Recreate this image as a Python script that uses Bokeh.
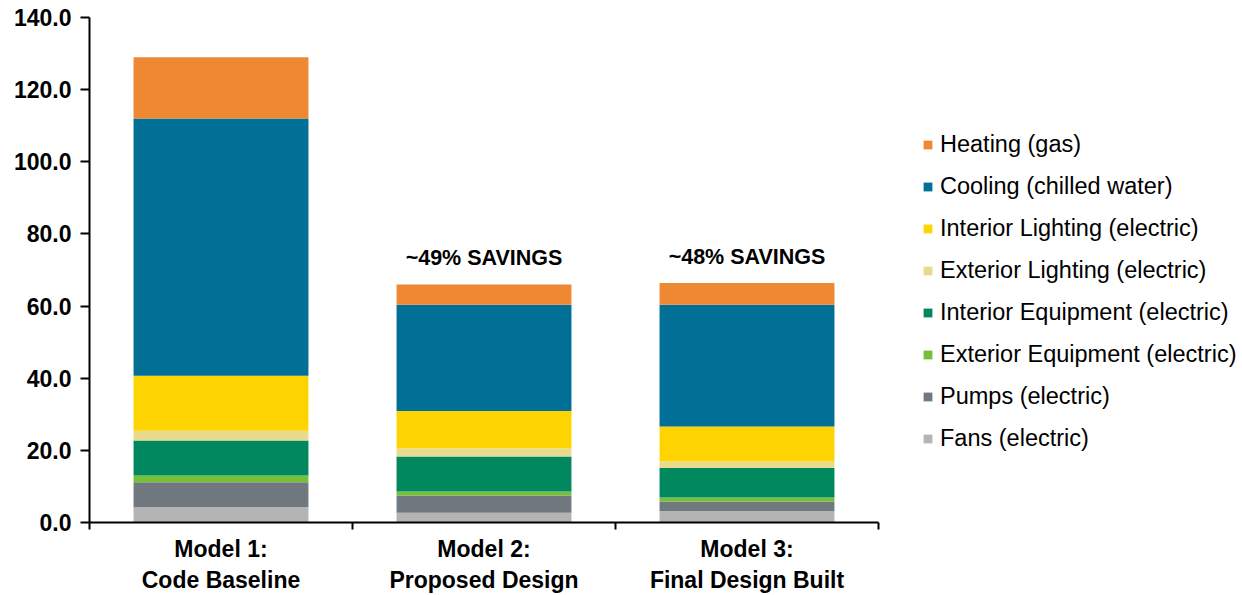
from bokeh.plotting import figure
from bokeh.models import (FixedTicker, Legend, LegendItem, ColumnDataSource,
                          NumeralTickFormatter, Range1d)
from bokeh.core.properties import value
from bokeh.embed import file_html
from bokeh.resources import INLINE

# ---- data ----
model_labels = ["Model 1:\nCode Baseline", "Model 2:\nProposed Design", "Model 3:\nFinal Design Built"]
x_pos = [0.5, 1.5, 2.5]
fans = [4.3, 2.7, 3.2]
pumps = [6.85, 4.8, 2.6]
ext_equip = [1.9, 1.1, 1.1]
int_equip = [9.65, 9.7, 8.2]
ext_light = [2.75, 2.3, 1.8]
int_light = [15.25, 10.3, 9.7]
cooling = [71.3, 29.5, 33.8]
heating = [17.0, 5.6, 6.0]
savings_x = [1.5, 2.5]
savings_text = ["~49% SAVINGS", "~48% SAVINGS"]
y_ticks = [0, 20, 40, 60, 80, 100, 120, 140]

keys = ["fans", "pumps", "ext_equip", "int_equip", "ext_light", "int_light", "cooling", "heating"]
names = ["Fans (electric)", "Pumps (electric)", "Exterior Equipment (electric)",
         "Interior Equipment (electric)", "Exterior Lighting (electric)",
         "Interior Lighting (electric)", "Cooling (chilled water)", "Heating (gas)"]
colors = ["#B4B4B4", "#707880", "#76BF39", "#01885F", "#E9DB8E", "#FED500", "#026F97", "#EF8833"]

series = [fans, pumps, ext_equip, int_equip, ext_light, int_light, cooling, heating]
data = {"x": x_pos}
for k, s in zip(keys, series):
    data[k] = s
source = ColumnDataSource(data)

FONT = "Liberation Sans"

p = figure(width=1242, height=595, output_backend="svg", toolbar_location=None,
           x_range=Range1d(0, 1153 / 263.0), y_range=Range1d(0, 140),
           min_border_left=89, min_border_right=0, min_border_top=17, min_border_bottom=73)
p.outline_line_color = None
p.xgrid.grid_line_color = None
p.ygrid.grid_line_color = None

renderers = p.vbar_stack(keys, x="x", width=0.665, source=source, color=colors, line_color=None)

# savings annotations
totals = [sum(s[i] for s in series) for i in range(3)]
p.text(x=savings_x, y=[totals[1], totals[2]], text=savings_text,
       text_align="center", text_baseline="bottom", y_offset=-14,
       text_font=value(FONT), text_font_style="bold", text_font_size="21.5px",
       text_color="black")

# x axis
xa = p.xaxis[0]
xa.bounds = (0, 3)
xa.ticker = FixedTicker(ticks=x_pos, minor_ticks=[0, 1, 2, 3])
xa.major_label_overrides = {x: lab for x, lab in zip(x_pos, model_labels)}
xa.major_tick_out = 0
xa.major_tick_in = 0
xa.minor_tick_out = 7
xa.minor_tick_in = 0
xa.minor_tick_line_color = "black"
xa.minor_tick_line_width = 2
xa.axis_line_color = "black"
xa.axis_line_width = 2
xa.major_label_text_font = FONT
xa.major_label_text_font_style = "bold"
xa.major_label_text_font_size = "23px"
xa.major_label_text_line_height = 1.2
xa.major_label_standoff = 6
xa.major_label_text_color = "black"

# y axis
ya = p.yaxis[0]
ya.ticker = FixedTicker(ticks=y_ticks)
ya.formatter = NumeralTickFormatter(format="0.0")
ya.minor_tick_line_color = None
ya.major_tick_out = 9
ya.major_tick_in = 0
ya.major_tick_line_width = 2
ya.major_tick_line_color = "black"
ya.axis_line_color = "black"
ya.axis_line_width = 2
ya.major_label_text_font = FONT
ya.major_label_text_font_style = "bold"
ya.major_label_text_font_size = "23px"
ya.major_label_standoff = 9
ya.major_label_text_color = "black"

# legend (top item = Heating)
items = [LegendItem(label=n, renderers=[r]) for n, r in zip(names, renderers)][::-1]
legend = Legend(items=items, location=(833, 70), padding=0, margin=0,
                glyph_width=11, glyph_height=11, label_standoff=7,
                spacing=14, label_height=28,
                label_text_font=FONT, label_text_font_size="23.5px",
                label_text_color="black",
                border_line_color=None, background_fill_alpha=0)
p.add_layout(legend)

open("out.html", "w").write(file_html(p, INLINE))
